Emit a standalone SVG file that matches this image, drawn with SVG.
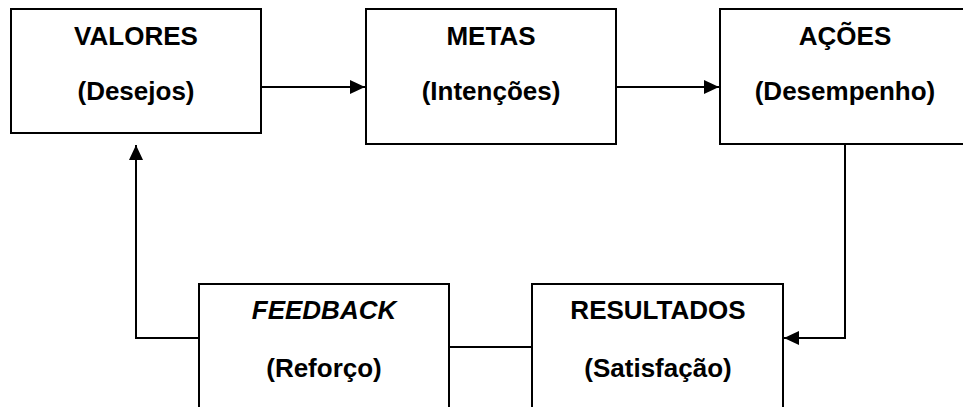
<svg xmlns="http://www.w3.org/2000/svg" width="963" height="407" viewBox="0 0 963 407">
<style>
.box{fill:#fff;stroke:#000;stroke-width:2}
.ln{fill:none;stroke:#000;stroke-width:2}
text{font-family:"Liberation Sans",Arial,sans-serif;font-weight:bold;font-size:26px;text-anchor:middle;fill:#000}
.it{font-style:italic}
</style>
<defs>
<marker id="ah" markerWidth="15" markerHeight="14" refX="15" refY="7" orient="auto" markerUnits="userSpaceOnUse">
<path d="M0,0 L15,7 L0,14 Z" fill="#000"/>
</marker>
</defs>
<rect width="963" height="407" fill="#fff"/>
<g id="connectors">
<line class="ln" x1="261" y1="87" x2="365" y2="87" marker-end="url(#ah)"/>
<line class="ln" x1="616" y1="87" x2="719" y2="87" marker-end="url(#ah)"/>
<polyline class="ln" points="845,144 845,338 784,338" marker-end="url(#ah)"/>
<line class="ln" x1="449" y1="347" x2="532" y2="347"/>
<polyline class="ln" points="199,338 136,338 136,145" marker-end="url(#ah)"/>
</g>
<g id="valores">
<rect class="box" x="11" y="9" width="250" height="124"/>
<text x="136" y="45">VALORES</text>
<text x="136" y="100">(Desejos)</text>
</g>
<g id="metas">
<rect class="box" x="366" y="9" width="250" height="135"/>
<text x="491" y="45">METAS</text>
<text x="491" y="100">(Intenções)</text>
</g>
<g id="acoes">
<rect class="box" x="720" y="9" width="250" height="135"/>
<text x="845" y="45">AÇÕES</text>
<text x="845" y="100">(Desempenho)</text>
</g>
<g id="resultados">
<rect class="box" x="532" y="284" width="251" height="140"/>
<text x="658" y="319">RESULTADOS</text>
<text x="658" y="377">(Satisfação)</text>
</g>
<g id="feedback">
<rect class="box" x="199" y="284" width="250" height="140"/>
<text class="it" x="324" y="319">FEEDBACK</text>
<text x="324" y="377">(Reforço)</text>
</g>
</svg>
